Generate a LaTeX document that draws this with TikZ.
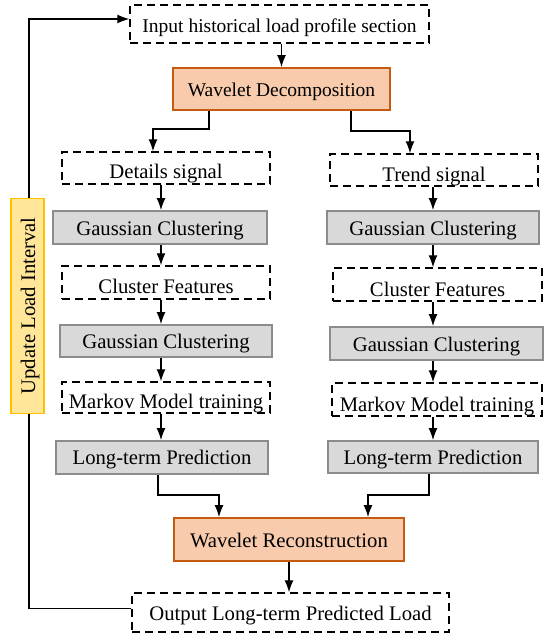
\documentclass[tikz,border=0pt]{standalone}
\usepackage{fontspec}
\setmainfont{Liberation Serif}
\usetikzlibrary{arrows.meta,calc}
\definecolor{orfill}{HTML}{F8CBAD}
\definecolor{ordraw}{HTML}{C55A11}
\definecolor{gyfill}{HTML}{D9D9D9}
\definecolor{gydraw}{HTML}{8C8C8C}
\definecolor{yefill}{HTML}{FFE699}
\definecolor{yedraw}{HTML}{FFC000}
\begin{document}
\begin{tikzpicture}[x=1pt,y=-1pt,
 base/.style={rectangle,inner sep=0pt,font=\fontsize{20.7}{24}\selectfont,text depth=0pt,text height=15pt},
 small/.style={font=\fontsize{19.5}{22}\selectfont},
 dbox/.style={base,draw=black,dash pattern=on 8pt off 5pt,line width=1.4pt,text height=21pt},
 gbox/.style={base,draw=gydraw,fill=gyfill,line width=1.8pt},
 obox/.style={base,draw=ordraw,fill=orfill,line width=1.8pt},
 ybox/.style={base,draw=yedraw,fill=yefill,line width=1.8pt},
 arr/.style={-{Latex[length=12pt,width=9pt]},line width=1.3pt},
 ln/.style={line width=1.3pt}]
\useasboundingbox (0,0) rectangle (553,634);
% nodes
\node[dbox,small,text height=18pt,minimum width=299,minimum height=38] (inp) at (279.5,24) {Input historical load profile section};
\node[obox,small,text height=14pt,minimum width=217,minimum height=42] (wd) at (281.5,89) {Wavelet Decomposition};
\node[dbox,minimum width=208,minimum height=32] (dsig) at (166,168) {Details signal};
\node[gbox,minimum width=214,minimum height=33] (gl1) at (160,227.5) {Gaussian Clustering};
\node[dbox,minimum width=208,minimum height=33] (cfl) at (166,282.5) {Cluster Features};
\node[gbox,minimum width=212,minimum height=32] (gl2) at (166,341) {Gaussian Clustering};
\node[dbox,minimum width=208,minimum height=31] (mkl) at (166,397.5) {Markov Model training};
\node[gbox,text height=13.5pt,minimum width=212,minimum height=33] (lpl) at (162,457.5) {Long-term Prediction};
\node[dbox,text height=23pt,minimum width=208,minimum height=32] (tsig) at (434,170) {Trend signal};
\node[gbox,minimum width=212,minimum height=33] (gr1) at (433,227.5) {Gaussian Clustering};
\node[dbox,text height=23pt,minimum width=209,minimum height=33] (cfr) at (437.5,284.5) {Cluster Features};
\node[gbox,minimum width=213,minimum height=33] (gr2) at (436.5,343.5) {Gaussian Clustering};
\node[dbox,text height=23pt,minimum width=210,minimum height=33] (mkr) at (437,399.5) {Markov Model training};
\node[gbox,text height=14pt,minimum width=210,minimum height=32] (lpr) at (433,457) {Long-term Prediction};
\node[obox,minimum width=230,minimum height=43] (wr) at (289,539.5) {Wavelet Reconstruction};
\node[dbox,text height=15pt,minimum width=317,minimum height=39] (out) at (290.5,612.5) {Output Long-term Predicted Load};
% helper coordinates
\coordinate (lx) at (161,0);
\coordinate (rx) at (433,0);
\coordinate (bl) at (153,129);
\coordinate (br) at (410,131);
\coordinate (cl) at (219,495);
\coordinate (cr) at (368,495);
\coordinate (fb) at (29,300);
% connectors
\draw[arr] (wd.north |- inp.south) -- (wd.north);
\draw[arr] ($(wd.south west)+(37,0)$) |- (bl) -- (dsig.north -| bl);
\draw[arr] ($(wd.south west)+(179,0)$) |- (br) -- (tsig.north -| br);
\draw[arr] (dsig.south -| lx) -- (gl1.north -| lx);
\draw[arr] (gl1.south -| lx) -- (cfl.north -| lx);
\draw[arr] (cfl.south -| lx) -- (gl2.north -| lx);
\draw[arr] (gl2.south -| lx) -- (mkl.north -| lx);
\draw[arr] (mkl.south -| lx) -- (lpl.north -| lx);
\draw[arr] (tsig.south -| rx) -- (gr1.north -| rx);
\draw[arr] (gr1.south -| rx) -- (cfr.north -| rx);
\draw[arr] (cfr.south -| rx) -- (gr2.north -| rx);
\draw[arr] (gr2.south -| rx) -- (mkr.north -| rx);
\draw[arr] (mkr.south -| rx) -- (lpr.north -| rx);
\draw[arr] ($(lpl.south west)+(103,0)$) |- (cl) -- (wr.north -| cl);
\draw[arr] ($(lpr.south west)+(102,0)$) |- (cr) -- (wr.north -| cr);
\draw[arr] (wr.south) -- (wr.south |- out.north);
\draw[arr] ([yshift=4pt]out.west) -| (fb) |- ([yshift=5pt]inp.west);
\node[ybox,rotate=90,text height=15pt,minimum width=215,minimum height=33] (upd) at (27.5,306) {Update Load Interval};
\end{tikzpicture}
\end{document}
